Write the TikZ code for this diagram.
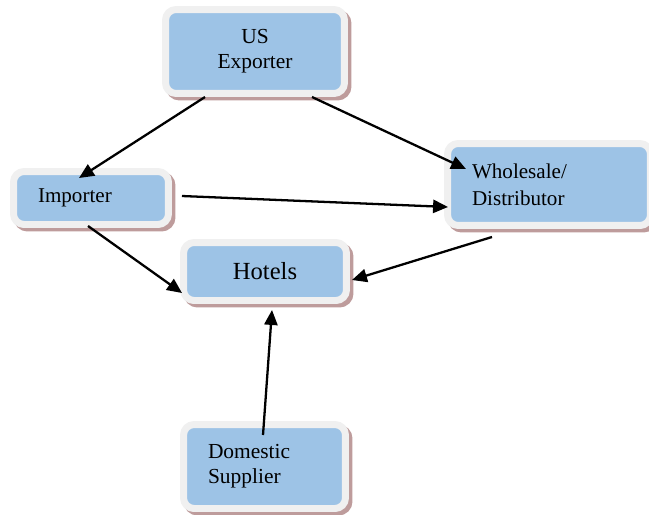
\documentclass[tikz,border=0pt]{standalone}
\usepackage{fontspec}
\setmainfont{Liberation Serif}
\usetikzlibrary{arrows.meta,shadows}

\definecolor{boxblue}{HTML}{9DC3E6}
\definecolor{boxrim}{HTML}{F0F0F0}
\definecolor{rimshadow}{HTML}{BE9C9C}

\tikzset{
	chainbox/.style={rectangle, rounded corners=6pt, fill=boxblue, draw=boxrim, line width=0.14cm,
		drop shadow={shadow xshift=0.07cm, shadow yshift=-0.07cm, fill=rimshadow, draw=rimshadow, line width=0.14cm, opacity=1},
		text=black, inner xsep=0.49cm, inner ysep=0pt},
	flow/.style={line width=1.3pt, -{Triangle[length=8.5pt,width=7.5pt]}}
}

\begin{document}
\begin{tikzpicture}[x=0.02cm, y=-0.02cm]
			\useasboundingbox (0,0) rectangle (649,514);

			% Define nodes with their coordinates
			\node[chainbox, minimum width=3.58cm, minimum height=1.68cm, align=center, font=\fontsize{12.2}{14.4}\selectfont] (usexp) at (255, 51.5) {US\\Exporter};
			\node[chainbox, minimum width=3.1cm, minimum height=1.06cm, text width=2.12cm, align=left, font=\fontsize{12}{15.3}\selectfont] (imp) at (91, 198) {Importer};
			\node[chainbox, minimum width=4.06cm, minimum height=1.64cm, text width=3.08cm, align=left, font=\fontsize{12}{15.3}\selectfont] (whole) at (549, 184.5) {Wholesale/\\Distributor};
			\node[chainbox, minimum width=3.26cm, minimum height=1.16cm, align=center, font=\fontsize{14}{17}\selectfont] (hotels) at (265, 271.5) {Hotels};
			\node[chainbox, minimum width=3.24cm, minimum height=1.68cm, text width=2.26cm, align=left, font=\fontsize{12.2}{14.4}\selectfont] (dom) at (264.5, 466.5) {Domestic\\Supplier};

			% Draw the flows between them
			\draw[flow] ([xshift=-1cm]usexp.south) -- ([xshift=-0.24cm, yshift=-0.2cm]imp.north);
			\draw[flow] ([xshift=1.14cm]usexp.south) -- ([xshift=0.44cm, yshift=0.31cm]whole.west);
			\draw[flow] ([xshift=0.2cm, yshift=0.04cm]imp.east) -- ([xshift=0.08cm, yshift=-0.45cm]whole.west);
			\draw[flow] ([xshift=-0.06cm, yshift=0.04cm]imp.south) -- ([xshift=0.04cm, yshift=-0.43cm]hotels.west);
			\draw[flow] ([xshift=-1.14cm, yshift=-0.16cm]whole.south) -- ([xshift=0.04cm, yshift=-0.17cm]hotels.east);
			\draw[flow] ([xshift=-0.03cm, yshift=-0.28cm]dom.north) -- ([xshift=0.14cm, yshift=-0.12cm]hotels.south);

		\end{tikzpicture}
\end{document}
